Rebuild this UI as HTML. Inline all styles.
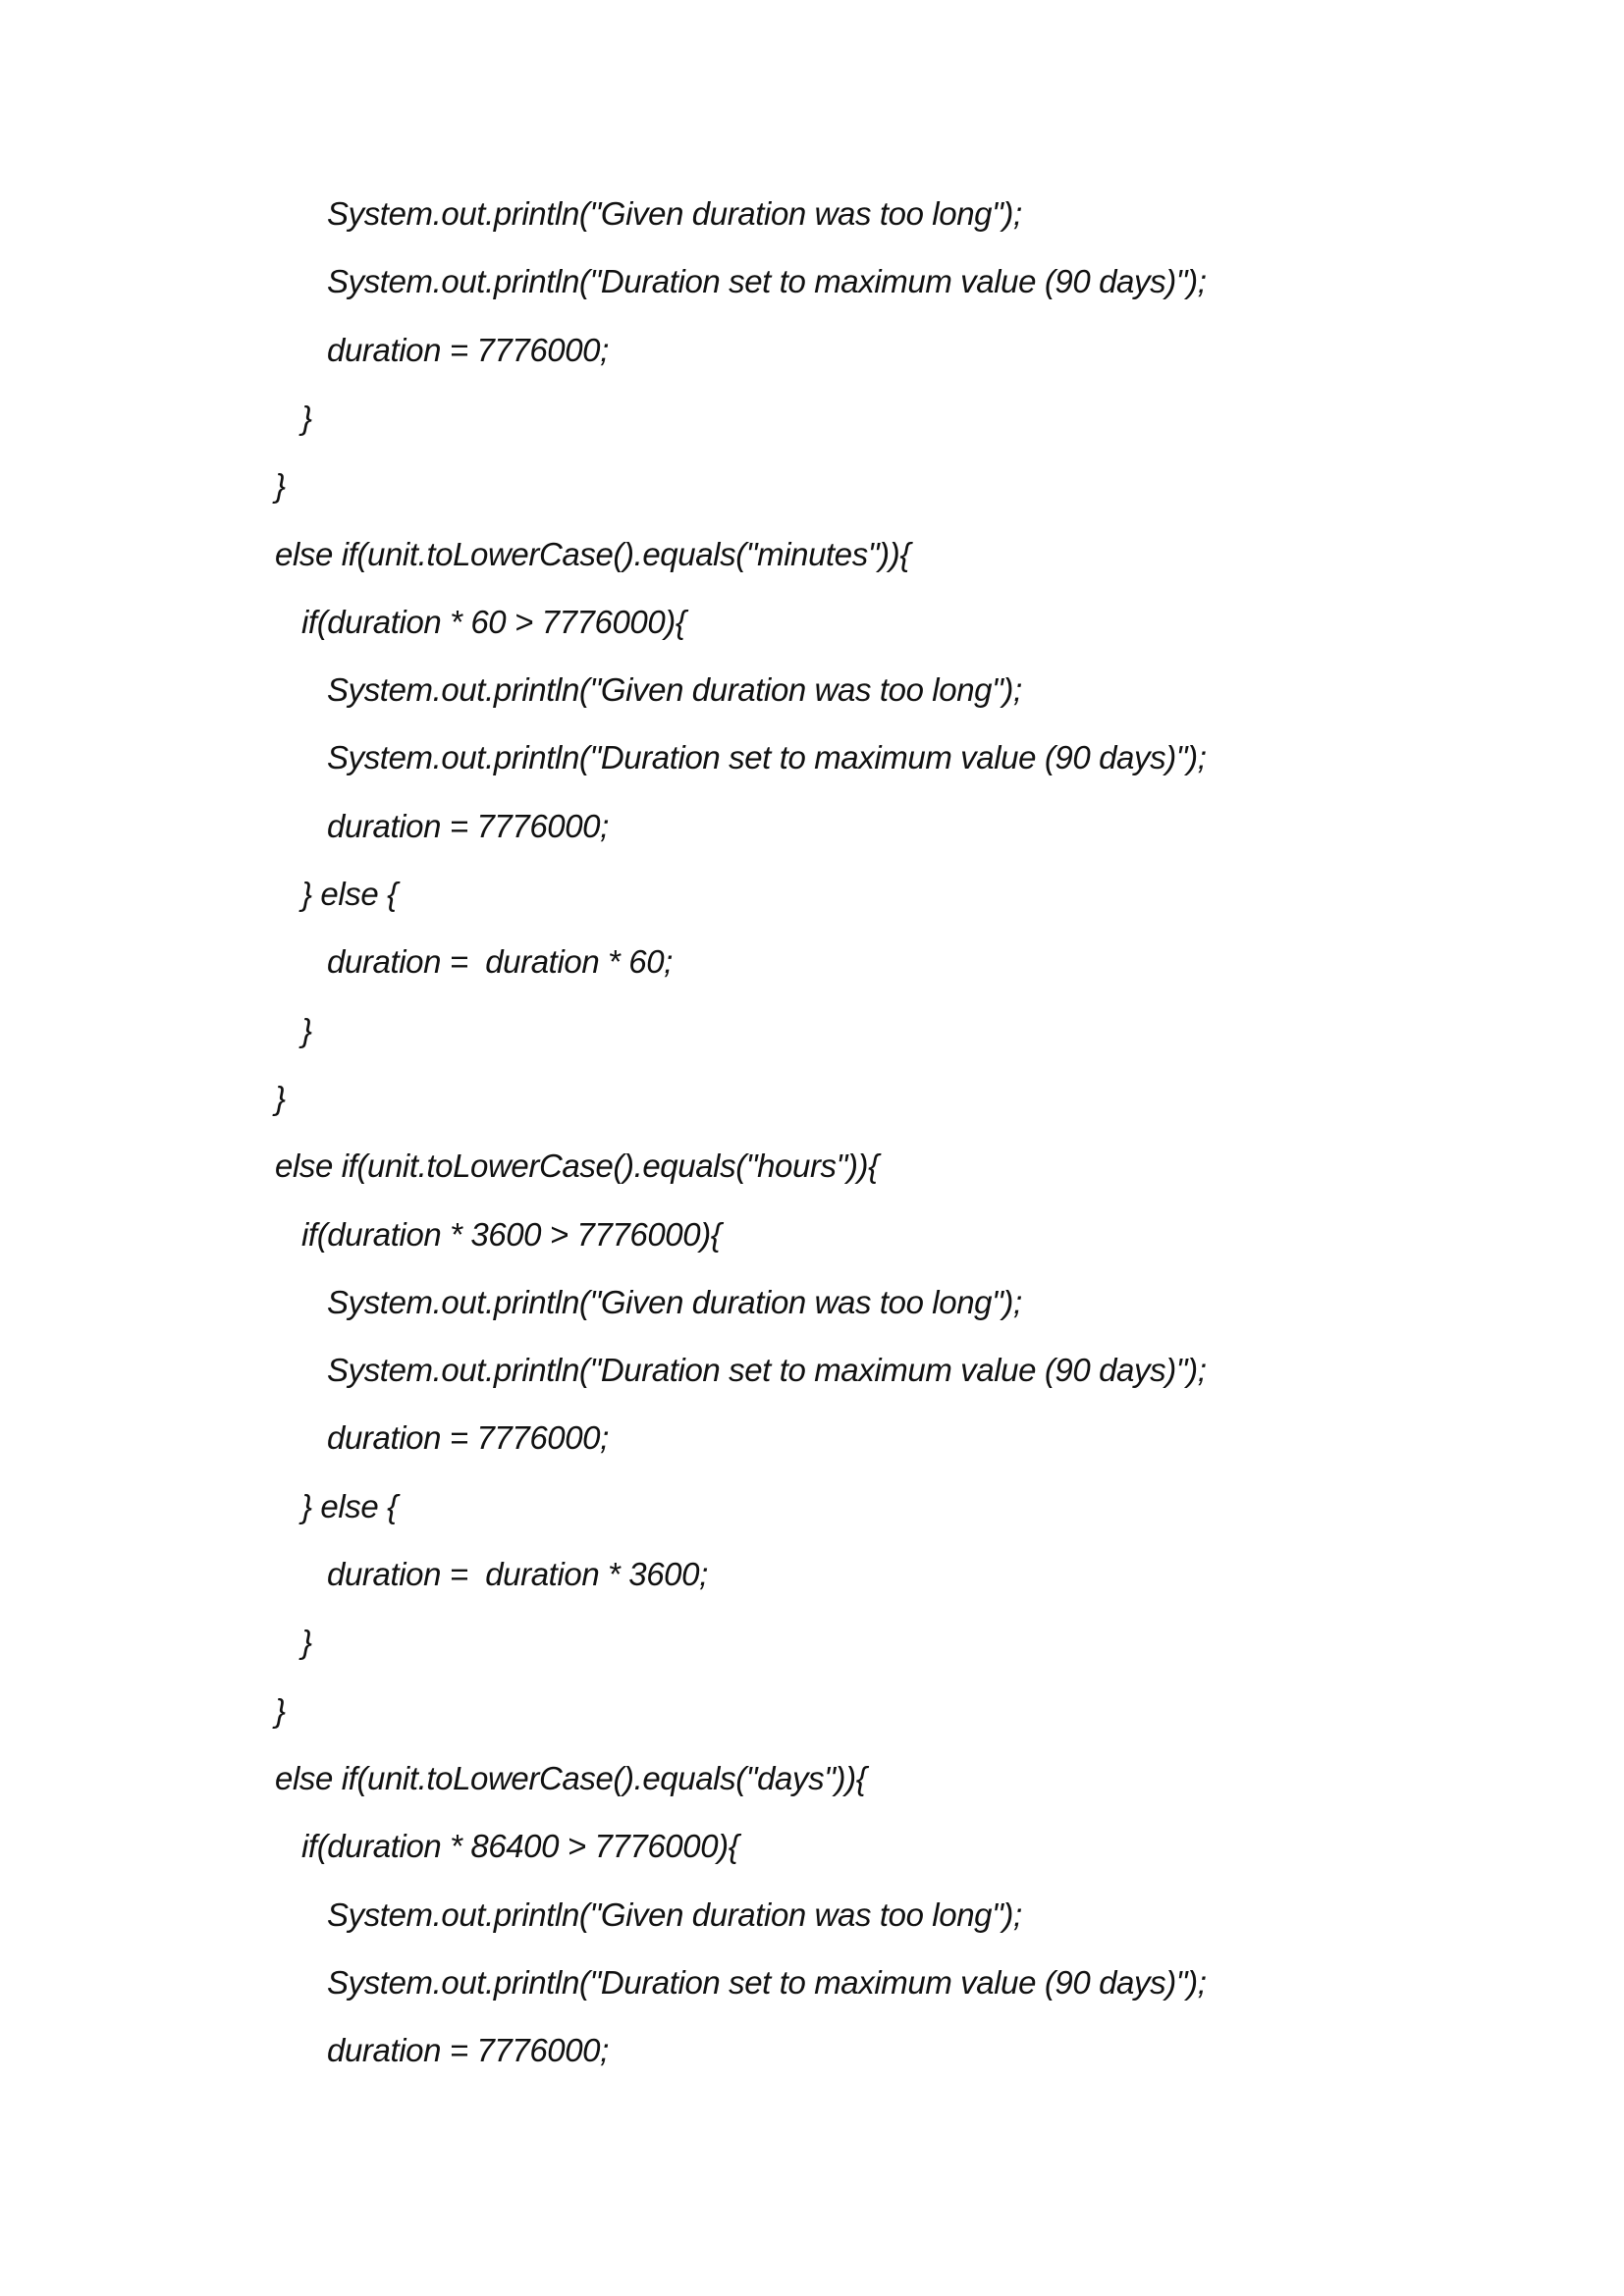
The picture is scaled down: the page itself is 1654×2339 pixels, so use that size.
<!DOCTYPE html>
<html><head><meta charset="utf-8"><style>
body{margin:0;width:1654px;height:2339px;background:#fff;position:relative;overflow:hidden}
div{position:absolute;font-family:"Liberation Sans",sans-serif;font-style:italic;font-size:33px;line-height:normal;color:#111;white-space:pre;letter-spacing:-0.4px}
</style></head><body>
<div style="left:333px;top:199px">System.out.println("Given duration was too long");</div>
<div style="left:333px;top:268px">System.out.println("Duration set to maximum value (90 days)");</div>
<div style="left:333px;top:338px">duration = 7776000;</div>
<div style="left:307px;top:407px">}</div>
<div style="left:280px;top:476px">}</div>
<div style="left:280px;top:546px">else if(unit.toLowerCase().equals("minutes")){</div>
<div style="left:307px;top:615px">if(duration * 60 &gt; 7776000){</div>
<div style="left:333px;top:684px">System.out.println("Given duration was too long");</div>
<div style="left:333px;top:753px">System.out.println("Duration set to maximum value (90 days)");</div>
<div style="left:333px;top:823px">duration = 7776000;</div>
<div style="left:307px;top:892px">} else {</div>
<div style="left:333px;top:961px">duration =  duration * 60;</div>
<div style="left:307px;top:1031px">}</div>
<div style="left:280px;top:1100px">}</div>
<div style="left:280px;top:1169px">else if(unit.toLowerCase().equals("hours")){</div>
<div style="left:307px;top:1239px">if(duration * 3600 &gt; 7776000){</div>
<div style="left:333px;top:1308px">System.out.println("Given duration was too long");</div>
<div style="left:333px;top:1377px">System.out.println("Duration set to maximum value (90 days)");</div>
<div style="left:333px;top:1446px">duration = 7776000;</div>
<div style="left:307px;top:1516px">} else {</div>
<div style="left:333px;top:1585px">duration =  duration * 3600;</div>
<div style="left:307px;top:1654px">}</div>
<div style="left:280px;top:1724px">}</div>
<div style="left:280px;top:1793px">else if(unit.toLowerCase().equals("days")){</div>
<div style="left:307px;top:1862px">if(duration * 86400 &gt; 7776000){</div>
<div style="left:333px;top:1932px">System.out.println("Given duration was too long");</div>
<div style="left:333px;top:2001px">System.out.println("Duration set to maximum value (90 days)");</div>
<div style="left:333px;top:2070px">duration = 7776000;</div>
</body></html>
